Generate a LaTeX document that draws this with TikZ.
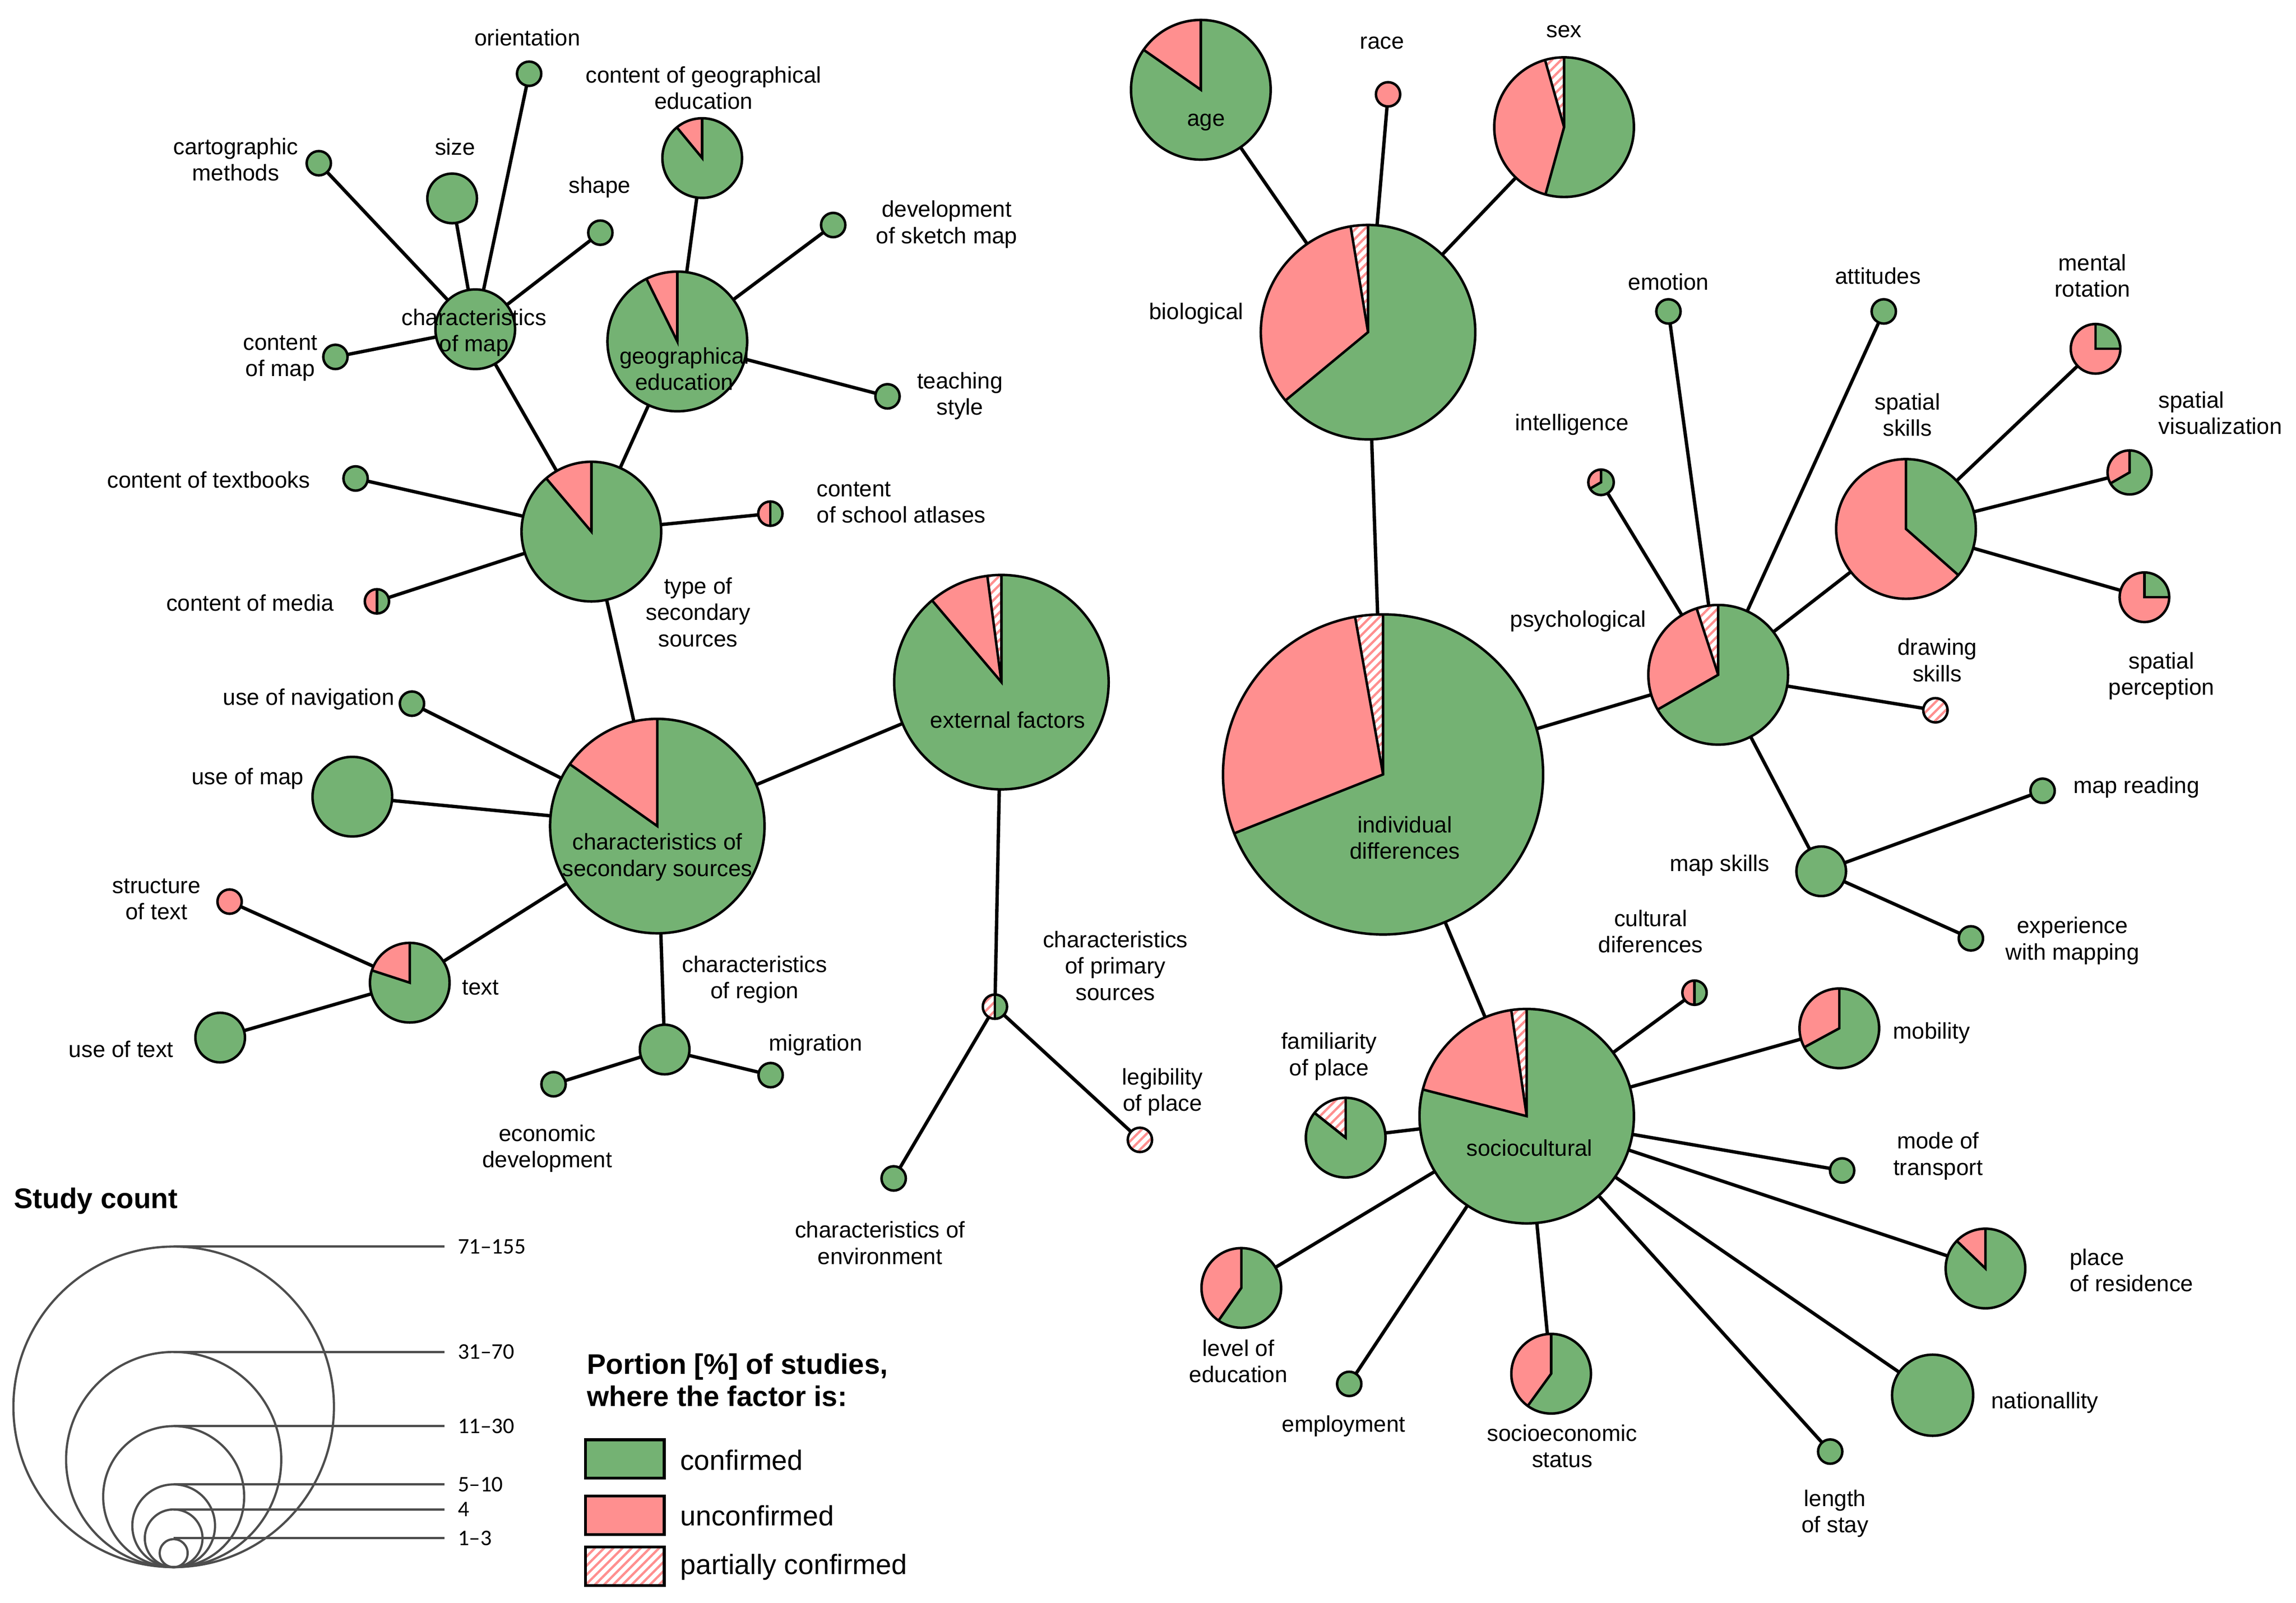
\documentclass[tikz,border=0pt]{standalone}
\usepackage{fontspec}
\setmainfont{Liberation Sans}
\newfontfamily\legnum{Carlito}
\usetikzlibrary{patterns.meta}
\pgfdeclarelayer{background}
\pgfsetlayers{background,main}
\definecolor{grn}{RGB}{116,178,115}
\definecolor{redc}{RGB}{255,143,143}
\definecolor{leggray}{RGB}{77,77,77}
\newcommand\lblfont{\fontsize{21.9pt}{25.4pt}\selectfont}
\newcommand\boldtitle{\fontsize{27.4pt}{31pt}\selectfont\bfseries}
\newcommand\legtext{\fontsize{27pt}{31pt}\selectfont}
\newcommand\numfont{\legnum\fontsize{21.6pt}{25pt}\selectfont}
\tikzset{
  dot/.style={circle, inner sep=0pt, outer sep=0pt},
  conn/.style={line width=1.15mm, black},
  outl/.style={line width=0.85mm, black, line join=miter},
  hatchfill/.style={preaction={fill=white}, pattern={Lines[angle=45,distance=2.2mm,line width=0.8mm]}, pattern color=redc},
  lbl/.style={font=\lblfont, align=center, inner sep=0pt},
  legline/.style={line width=0.75mm, leggray},
  legnumlbl/.style={font=\numfont, anchor=west, inner xsep=4.5mm, inner ysep=0pt},
  legbox/.style={draw, line width=0.95mm, minimum width=26.8mm, minimum height=13.05mm, inner sep=0pt},
}
% pie: name, x, y, outer radius, green fraction, hatched fraction
\newcommand\pie[6]{%
  \node[dot, minimum size=#4 mm] (#1) at (#2,#3) {};
  \pgfmathsetmacro\pieR{#4-0.85}%
  \pgfmathsetmacro\pieG{-90+360*#5}%
  \pgfmathsetmacro\pieP{270-360*#6}%
  \fill[grn] (#2,#3) -- ++(-90:\pieR) arc[start angle=-90, end angle=\pieG, radius=\pieR] -- cycle;
  \fill[redc] (#2,#3) -- ++(\pieG:\pieR) arc[start angle=\pieG, end angle=\pieP, radius=\pieR] -- cycle;
  \path[hatchfill] (#2,#3) -- ++(\pieP:\pieR) arc[start angle=\pieP, end angle=270, radius=\pieR] -- cycle;
  \draw[outl] (#2,#3) circle[radius=\pieR];
  \draw[outl] (#2,#3) ++(-90:\pieR) -- (#2,#3) -- ++(\pieG:\pieR);
  \draw[outl] (#2,#3) -- ++(\pieP:\pieR);
}
% disc: name, x, y, outer radius, fill style
\newcommand\disc[5]{%
  \node[dot, minimum size=#4 mm] (#1) at (#2,#3) {};
  \pgfmathsetmacro\pieR{#4-0.85}%
  \draw[outl,#5] (#2,#3) circle[radius=\pieR];
}
\begin{document}
\begin{tikzpicture}[x=0.5mm,y=-0.5mm]
\useasboundingbox (0,0) rectangle (1560,1089);
% ---------- left tree ----------
\disc{orient}{359.5}{50.1}{9.1}{fill=grn}
\pie{cge}{477.1}{107.4}{27.9}{0.89}{0}
\disc{carto}{216.6}{110.9}{9.1}{fill=grn}
\disc{sizen}{307.2}{134.8}{17.7}{fill=grn}
\disc{shape}{407.9}{158.1}{9.1}{fill=grn}
\disc{dsm}{566.1}{152.9}{9.1}{fill=grn}
\disc{com}{322.9}{223.7}{27.9}{fill=grn}
\disc{cmap}{227.9}{242.5}{9.1}{fill=grn}
\pie{gedu}{460.2}{232}{48.3}{0.927}{0}
\disc{teach}{603}{269.3}{9.1}{fill=grn}
\pie{tss}{401.8}{361.2}{48.3}{0.888}{0}
\disc{ctb}{241.6}{325.1}{9.1}{fill=grn}
\pie{csa}{523.4}{349}{9.1}{0.5}{0}
\pie{cmed}{256.1}{408.6}{9.1}{0.5}{0}
\pie{css}{446.6}{561.3}{73.7}{0.848}{0}
\disc{nav}{279.9}{478.1}{9.1}{fill=grn}
\disc{umap}{239.4}{541.3}{27.9}{fill=grn}
\disc{sot}{156}{612.6}{9.1}{fill=redc}
\pie{textp}{278.4}{667.7}{27.9}{0.8}{0}
\disc{utext}{149.6}{705}{17.7}{fill=grn}
\disc{creg}{451.6}{713.1}{17.7}{fill=grn}
\disc{migr}{523.6}{730.5}{9.1}{fill=grn}
\disc{econ}{376.1}{736.7}{9.1}{fill=grn}
\pie{ext}{680.4}{463.5}{73.7}{0.888}{0.021}
\pie{cps}{676}{684}{9.1}{0.5}{0.5}
\disc{cenv}{607.2}{800.7}{9.1}{fill=grn}
\disc{legib}{774.5}{774.5}{9.1}{hatchfill}
% ---------- right tree ----------
\pie{age}{815.9}{61}{48.3}{0.847}{0}
\disc{race}{943.1}{64.1}{9.1}{fill=redc}
\pie{sex}{1062.7}{86.4}{48.3}{0.543}{0.044}
\pie{bio}{929.5}{225.7}{73.7}{0.64}{0.026}
\disc{emo}{1133.6}{211.6}{9.1}{fill=grn}
\disc{att}{1279.9}{211.6}{9.1}{fill=grn}
\pie{mrot}{1423.8}{237}{17.7}{0.25}{0}
\pie{intel}{1087.8}{327.7}{9.5}{0.667}{0}
\pie{ssk}{1295}{359.4}{48.3}{0.365}{0}
\pie{svis}{1446.9}{321}{15.8}{0.667}{0}
\pie{sper}{1457}{405.8}{17.7}{0.25}{0}
\pie{psy}{1167.4}{458.5}{48.3}{0.667}{0.05}
\disc{drawsk}{1315}{482.6}{9.1}{hatchfill}
\pie{ind}{939.7}{526.2}{109.6}{0.69}{0.028}
\disc{mread}{1387.8}{537.3}{9.1}{fill=grn}
\disc{mskill}{1237.4}{592}{17.7}{fill=grn}
\disc{expm}{1339.1}{637.6}{9.1}{fill=grn}
\pie{cult}{1151.3}{674.5}{9.1}{0.5}{0}
\pie{mob}{1249.7}{698.7}{27.9}{0.671}{0}
\pie{soc}{1037.3}{758.4}{73.7}{0.79}{0.023}
\pie{fam}{914.3}{773}{27.9}{0.857}{0.143}
\disc{mode}{1251.6}{795.3}{9.1}{fill=grn}
\pie{pres}{1349}{861.9}{27.9}{0.872}{0}
\pie{ledu}{843.4}{875.1}{27.9}{0.597}{0}
\disc{empl}{916.7}{940.3}{9.1}{fill=grn}
\pie{ses}{1053.9}{933.4}{27.9}{0.6}{0}
\disc{nat}{1313.1}{948}{28.4}{fill=grn}
\disc{lstay}{1243.5}{986.3}{9.1}{fill=grn}
% ---------- connectors ----------
\begin{pgfonlayer}{background}
\foreach \a/\b in {com/carto, com/sizen, com/orient, com/shape, com/cmap, com/tss,
  gedu/cge, gedu/dsm, gedu/teach, gedu/tss, tss/ctb, tss/csa, tss/cmed, tss/css,
  css/nav, css/umap, css/textp, css/creg, css/ext, textp/sot, textp/utext,
  creg/econ, creg/migr, ext/cps, cps/cenv, cps/legib,
  ind/bio, bio/age, bio/race, bio/sex, ind/psy, psy/intel, psy/emo, psy/att,
  psy/ssk, psy/drawsk, psy/mskill, ssk/mrot, ssk/svis, ssk/sper, mskill/mread,
  mskill/expm, ind/soc, soc/cult, soc/mob, soc/fam, soc/mode, soc/pres, soc/ledu,
  soc/empl, soc/ses, soc/nat, soc/lstay}
  \draw[conn] (\a.center) -- (\b.center);
\end{pgfonlayer}
% ---------- labels ----------
\node[lbl] (t-orient) at (358.3,25.4) {orientation};
\node[lbl] (t-cge) at (478,59.6) {content of geographical\\education};
\node[lbl] (t-carto) at (160.2,108.3) {cartographic\\methods};
\node[lbl] (t-size) at (309.2,99.9) {size};
\node[lbl] (t-shape) at (407.5,127.3) {shape};
\node[lbl] (t-dsm) at (643.2,152.5) {development\\of sketch map};
\node[lbl] (t-com) at (322.1,225.9) {characteristics\\of map};
\node[lbl] (t-cmap) at (190.4,243.4) {content\\of map};
\node[lbl] (t-gedu) at (465,250.6) {geographical\\education};
\node[lbl] (t-teach) at (652.2,268.9) {teaching\\style};
\node[lbl] (t-ctb) at (141.7,326) {content of textbooks};
\node[lbl, align=left, anchor=west] (t-csa) at (554.8,341.5) {content\\of school atlases};
\node[lbl] (t-cmed) at (169.9,409.5) {content of media};
\node[lbl] (t-tss) at (474.3,416) {type of\\secondary\\sources};
\node[lbl] (t-nav) at (209.7,475) {use of navigation};
\node[lbl] (t-umap) at (168.2,529) {use of map};
\node[lbl] (t-css) at (446.6,582.4) {characteristics of\\secondary sources};
\node[lbl] (t-sot) at (106.3,611) {structure\\of text};
\node[lbl] (t-text) at (326.4,671) {text};
\node[lbl] (t-utext) at (82.3,713) {use of text};
\node[lbl] (t-creg) at (512.7,665.5) {characteristics\\of region};
\node[lbl] (t-migr) at (554.2,710) {migration};
\node[lbl] (t-econ) at (371.8,780.3) {economic\\development};
\node[lbl] (t-ext) at (684.7,489.3) {external factors};
\node[lbl] (t-cps) at (757.8,656.2) {characteristics\\of primary\\sources};
\node[lbl] (t-legib) at (789.8,742) {legibility\\of place};
\node[lbl] (t-cenv) at (597.9,844.5) {characteristics of\\environment};
\node[lbl] (t-age) at (819.4,83) {age};
\node[lbl] (t-race) at (939,29.2) {race};
\node[lbl] (t-sex) at (1062.7,21.3) {sex};
\node[lbl] (t-bio) at (812.8,213) {biological};
\node[lbl] (t-emo) at (1133.6,191.4) {emotion};
\node[lbl] (t-att) at (1275.9,187.6) {attitudes};
\node[lbl] (t-mrot) at (1421.7,187.4) {mental\\rotation};
\node[lbl] (t-intel) at (1068,288.5) {intelligence};
\node[lbl] (t-ssk) at (1296,281.8) {spatial\\skills};
\node[lbl, align=left, anchor=west] (t-svis) at (1466.5,280.6) {spatial\\visualization};
\node[lbl] (t-sper) at (1468.5,459.3) {spatial\\perception};
\node[lbl] (t-psy) at (1072.3,421.9) {psychological};
\node[lbl] (t-drawsk) at (1316.2,448.6) {drawing\\skills};
\node[lbl] (t-ind) at (954.5,569.2) {individual\\differences};
\node[lbl, anchor=west] (t-mread) at (1408.6,535) {map reading};
\node[lbl] (t-mskill) at (1168.3,588) {map skills};
\node[lbl] (t-expm) at (1408.1,639.2) {experience\\with mapping};
\node[lbl] (t-cult) at (1121.5,632.8) {cultural\\diferences};
\node[lbl, anchor=west] (t-mob) at (1286.1,702) {mobility};
\node[lbl] (t-soc) at (1039.2,780) {sociocultural};
\node[lbl] (t-fam) at (903,717.8) {familiarity\\of place};
\node[lbl] (t-mode) at (1316.8,785.5) {mode of\\transport};
\node[lbl, align=left, anchor=west] (t-pres) at (1406.2,863) {place\\of residence};
\node[lbl] (t-ledu) at (841.4,924.8) {level of\\education};
\node[lbl] (t-empl) at (912.9,969) {employment};
\node[lbl] (t-ses) at (1061.4,982.7) {socioeconomic\\status};
\node[lbl, anchor=west] (t-nat) at (1352.8,953) {nationallity};
\node[lbl] (t-lstay) at (1246.8,1028.5) {length\\of stay};
% ---------- legend: study count ----------
\node[font=\boldtitle, anchor=base west, inner sep=0pt] (t-study) at (9.4,821) {Study count};
\draw[legline] (118,955.9) circle[radius=108.9];
\draw[legline] (118,991.7) circle[radius=73.1];
\draw[legline] (118,1016.9) circle[radius=47.9];
\draw[legline] (118,1036.7) circle[radius=28.1];
\draw[legline] (118,1045.2) circle[radius=19.6];
\draw[legline] (118,1055.3) circle[radius=9.5];
\node[legnumlbl] (n1) at (302,847) {71–155};
\node[legnumlbl] (n2) at (302,918.6) {31–70};
\node[legnumlbl] (n3) at (302,969) {11–30};
\node[legnumlbl] (n4) at (302,1008.6) {5–10};
\node[legnumlbl] (n5) at (302,1025.6) {4};
\node[legnumlbl] (n6) at (302,1045) {1–3};
\coordinate (c1) at (118,847);
\coordinate (c2) at (118,918.6);
\coordinate (c3) at (118,969);
\coordinate (c4) at (118,1008.6);
\coordinate (c5) at (118,1025.6);
\coordinate (c6) at (118,1045);
\foreach \i in {1,...,6} \draw[legline] (c\i) -- (n\i.west);
% ---------- legend: portion ----------
\node[font=\boldtitle, align=left, anchor=west, inner sep=0pt] (t-portion) at (398.8,937.7) {Portion [\%] of studies,\\where the factor is:};
\node[legbox, fill=grn] (b1) at (424.5,991.3) {};
\node[legbox, fill=redc] (b2) at (424.5,1029.5) {};
\node[legbox, hatchfill] (b3) at (424.5,1064.3) {};
\node[font=\legtext, anchor=west, inner sep=0pt] (t-b1) at (462.1,992) {confirmed};
\node[font=\legtext, anchor=west, inner sep=0pt] (t-b2) at (462.1,1029.7) {unconfirmed};
\node[font=\legtext, anchor=west, inner sep=0pt] (t-b3) at (462.1,1064.9) {partially confirmed};
\end{tikzpicture}
\end{document}
